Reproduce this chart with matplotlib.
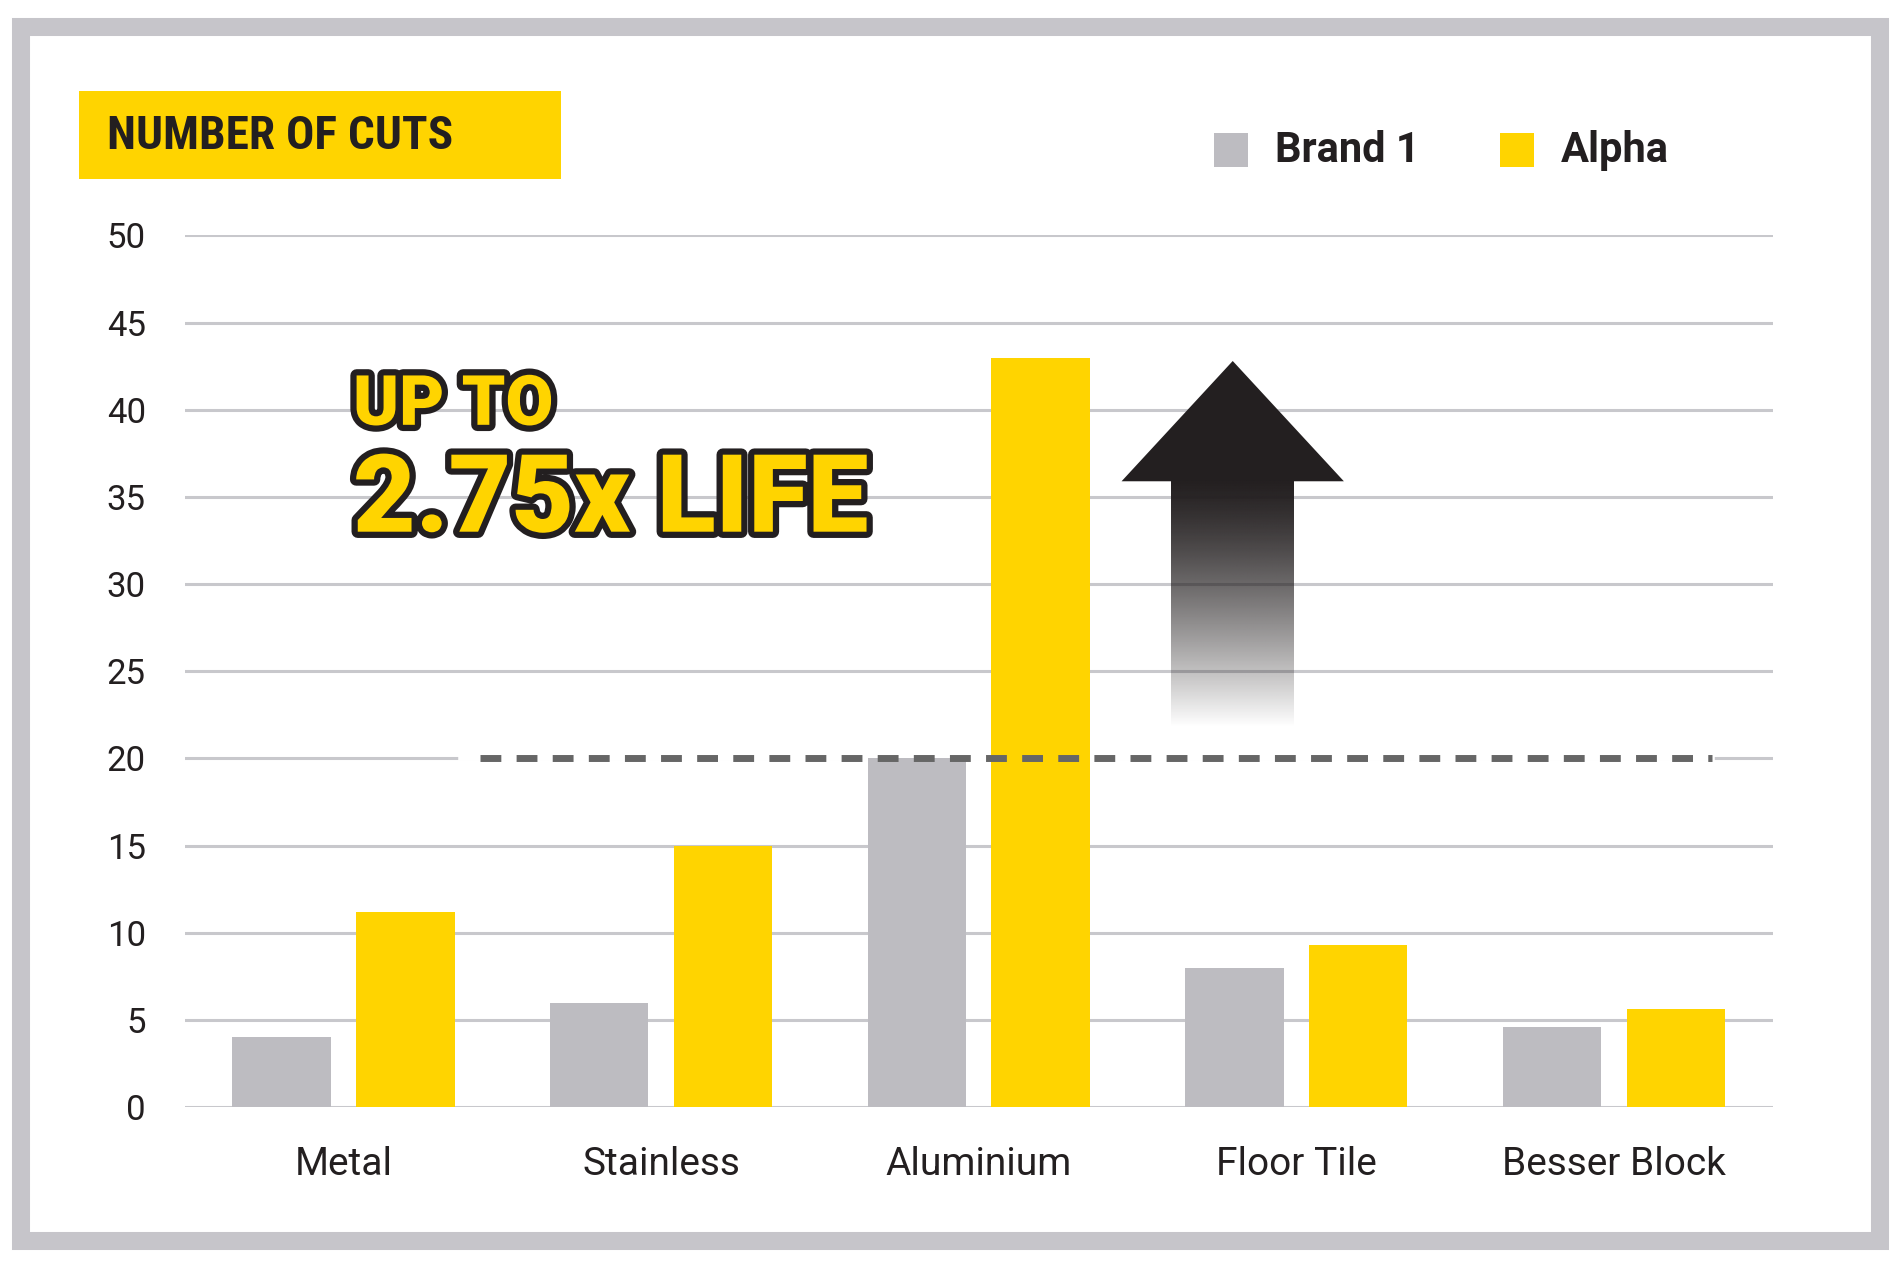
import matplotlib
matplotlib.use("Agg")
import matplotlib.pyplot as plt
import matplotlib.patheffects as pe
from matplotlib.patches import Rectangle, Polygon
import numpy as np

categories = ["Metal", "Stainless", "Aluminium", "Floor Tile", "Besser Block"]
brand1 = [4.0, 6.0, 20.0, 8.0, 4.6]
alpha = [11.2, 15.0, 43.0, 9.3, 5.6]
yticks = [0, 5, 10, 15, 20, 25, 30, 35, 40, 45, 50]
series_names = ["Brand 1", "Alpha"]
title = "NUMBER OF CUTS"
baseline = 20

GRAY = "#BDBCC1"
YEL = "#FFD400"
DARK = "#231F20"
GRID = "#C8C8CC"

plt.rcParams['font.family'] = ['Roboto', 'DejaVu Sans']
fig = plt.figure(figsize=(19.04, 12.66), dpi=100, facecolor="white")
fig.patches.append(Rectangle((0.0112, 0.0195), 0.9764, 0.9590, transform=fig.transFigure,
                             fill=False, edgecolor="#C6C5CA", linewidth=13, zorder=0))

ax = fig.add_axes([0.097, 0.1255, 0.834, 0.6885])
x = np.arange(len(categories))
w = 0.31
ax.bar(x - 0.195, brand1, w, color=GRAY, zorder=3)
ax.bar(x + 0.195, alpha, w, color=YEL, zorder=3)
ax.set_xlim(-0.5, 4.5)
ax.set_ylim(0, 50)
for y in yticks:
    ax.axhline(y, color=GRID, lw=2.2, zorder=1)
for s in ax.spines.values():
    s.set_visible(False)
ax.set_yticks(yticks)
ax.set_yticklabels([str(v) for v in yticks], fontsize=25, color=DARK)
ax.tick_params(axis="y", length=0, pad=28)
ax.set_xticks(x)
ax.set_xticklabels(categories, fontsize=28, color=DARK)
ax.tick_params(axis="x", length=0, pad=28)

# dashed baseline
ax.plot([0.37, 4.31], [baseline, baseline], color="white", lw=4, zorder=2)
ax.plot([0.43, 4.31], [baseline, baseline], color="#666666", lw=5, ls=(0, (3, 2.2)), zorder=4)

# arrow
ax.add_patch(Polygon([[2.45, 35.9], [2.80, 42.8], [3.15, 35.9]], closed=True,
                     facecolor=DARK, edgecolor="none", zorder=5))
grad = np.linspace(0, 1, 256).reshape(-1, 1)
rgba = np.zeros((256, 1, 4))
dc = np.array([0x23, 0x1F, 0x20]) / 255
t = np.clip((grad - 0.0) / 1.0, 0, 1) ** 1.3
rgba[..., :3] = dc
rgba[..., 3] = 1 - t
rgba = rgba[::-1]  # top dark
ax.imshow(rgba, extent=[2.607, 2.992, 21.8, 35.95], aspect="auto", origin="lower",
          zorder=5, interpolation="bilinear")
ax.set_xlim(-0.5, 4.5); ax.set_ylim(0, 50)

stroke = [pe.withStroke(linewidth=9, foreground=DARK)]
ax.text(0.03, 40.2, "UP TO", fontsize=50, fontweight="black", color=YEL,
        va="center", ha="left", path_effects=stroke, zorder=6)
ax.text(0.03, 34.7, "2.75x LIFE", fontsize=78, fontweight="black", color=YEL,
        va="center", ha="left", path_effects=stroke, zorder=6)

# title box
fig.patches.append(Rectangle((65/1568, 1-148/1044), 397/1568, 73/1044, transform=fig.transFigure,
                             facecolor=YEL, edgecolor="none", zorder=1))
fig.text(88/1568, 1-112/1044, title, fontsize=34, fontweight="bold", color=DARK,
         va="center", ha="left", family=['Roboto Condensed', 'Roboto', 'DejaVu Sans'])

# legend
for xs, c, name in [(1000, GRAY, series_names[0]), (1235, YEL, series_names[1])]:
    fig.patches.append(Rectangle((xs/1568, 1-138/1044), 28/1568, 28/1044,
                                 transform=fig.transFigure, facecolor=c, edgecolor="none"))
    fig.text((xs+50)/1568, 1-124/1044, name, fontsize=30, fontweight="bold", color=DARK,
             va="center", ha="left")

fig.savefig("out.png", dpi=100, facecolor="white")
